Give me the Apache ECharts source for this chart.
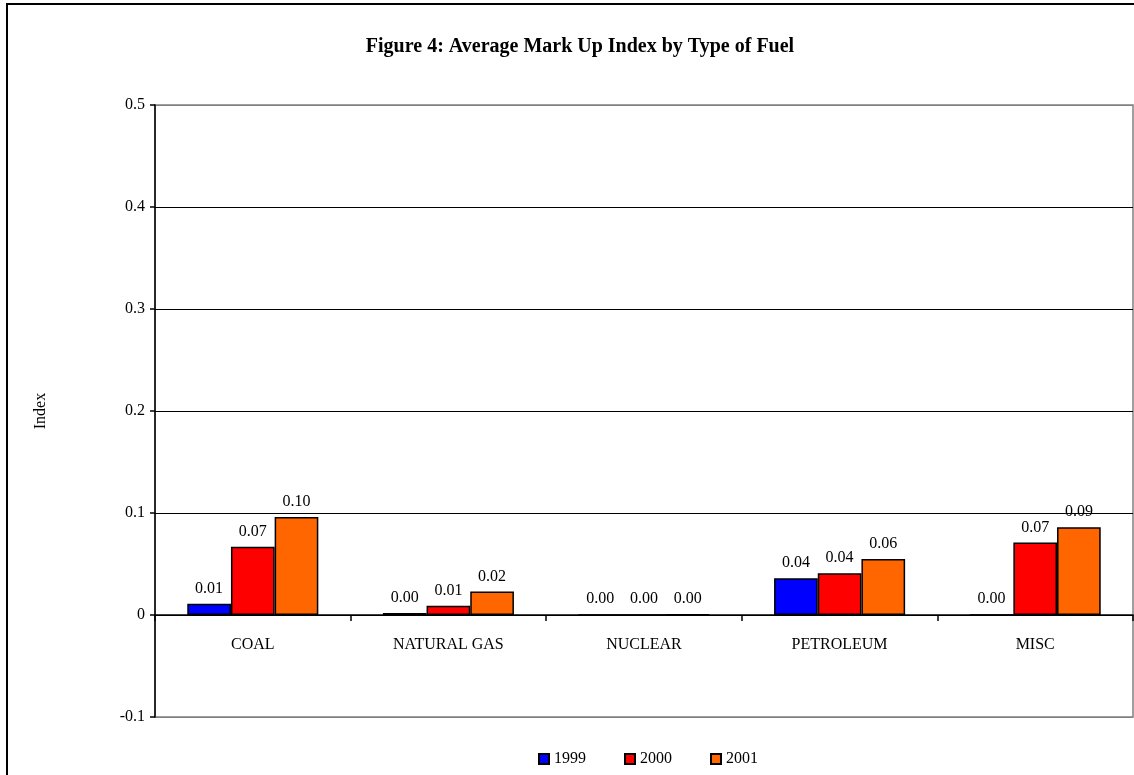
<!DOCTYPE html>
<html>
<head>
<meta charset="utf-8">
<script src="https://cdn.jsdelivr.net/npm/echarts@6/dist/echarts.min.js"></script>
<style>
html,body{margin:0;padding:0;background:#fff;}
#c{width:1134px;height:775px;}
</style>
</head>
<body>
<div id="c"></div>
<script>
const categories = ['COAL', 'NATURAL GAS', 'NUCLEAR', 'PETROLEUM', 'MISC'];
const years = ['1999', '2000', '2001'];
const v1999 = [0.011, 0.002, 0.0, 0.036, 0.0];
const v2000 = [0.067, 0.009, 0.0, 0.041, 0.071];
const v2001 = [0.096, 0.023, 0.0005, 0.055, 0.086];
const yTicks = [-0.1, 0, 0.1, 0.2, 0.3, 0.4, 0.5];
const colors = ['#0000FF', '#FF0000', '#FF6600'];

const font = 'Liberation Serif';
const chart = echarts.init(document.getElementById('c'));
const mk = (name, data, color) => ({
  name, type: 'bar', data,
  barGap: '0%', barCategoryGap: '33%',
  itemStyle: { color, borderColor: '#000', borderWidth: 1.5 },
  label: { show: true, position: 'top', distance: 7, fontFamily: font, fontSize: 16, color: '#000',
    formatter: p => Math.abs(p.value).toFixed(2) }
});
chart.setOption({
  animation: false,
  backgroundColor: '#fff',
  graphic: [{ type: 'rect', shape: { x: 7, y: 4, width: 1140, height: 790 }, style: { fill: 'none', stroke: '#000', lineWidth: 2 } }],
  title: { text: 'Figure 4: Average Mark Up Index by Type of Fuel', left: 575, textAlign: 'center', top: 32,
    textStyle: { fontFamily: font, fontSize: 20, fontWeight: 'bold', color: '#000' } },
  legend: { data: years, icon: 'rect', bottom: 3, left: 533, itemWidth: 10, itemHeight: 10, itemGap: 38,
    textStyle: { fontFamily: font, fontSize: 16, color: '#000' } },
  grid: { left: 155, right: 1, top: 105, bottom: 58, show: true, borderColor: '#808080', borderWidth: 1.5 },
  xAxis: { type: 'category', data: categories,
    axisLine: { onZero: true, lineStyle: { color: '#000', width: 1.5 } },
    axisTick: { show: true, length: 6, lineStyle: { color: '#000', width: 1.5 } },
    axisLabel: { fontFamily: font, fontSize: 16, color: '#000', margin: -80 },
    splitLine: { show: false } },
  yAxis: { type: 'value', min: yTicks[0], max: yTicks[yTicks.length - 1], interval: 0.1,
    name: 'Index', nameLocation: 'middle', nameGap: 106, nameRotate: 90,
    nameTextStyle: { fontFamily: font, fontSize: 16, color: '#000' },
    axisLine: { show: true, lineStyle: { color: '#000', width: 1.5 } },
    axisTick: { show: true, length: 5, lineStyle: { color: '#000', width: 1.5 } },
    axisLabel: { fontFamily: font, fontSize: 16, color: '#000', margin: 10,
      formatter: v => { const r = Math.round(v * 10) / 10; return r === 0 ? '0' : String(r); } },
    splitLine: { show: true, lineStyle: { color: ['#808080', '#000', '#000', '#000', '#000', '#000', '#808080'], width: 1 } } },
  series: [mk(years[0], v1999, colors[0]), mk(years[1], v2000, colors[1]), mk(years[2], v2001, colors[2])]
});
</script>
</body>
</html>
